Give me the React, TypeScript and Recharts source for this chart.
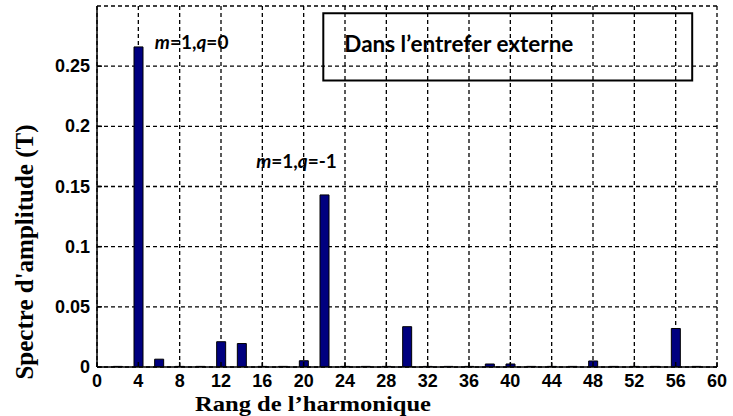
import React from 'react';
import { BarChart, Bar, XAxis, YAxis, CartesianGrid, ReferenceArea, ReferenceDot } from 'recharts';

// rangs harmoniques (pairs) et amplitude du spectre (T)
const rangs = [2, 4, 6, 8, 10, 12, 14, 16, 18, 20, 22, 24, 26, 28, 30, 32, 34, 36, 38, 40, 42, 44, 46, 48, 50, 52, 54, 56, 58];
const amplitudes = [
  0.0005, 0.266, 0.0065, 0.0005, 0.0005, 0.021, 0.0195, 0.0005, 0.0005, 0.0052,
  0.143, 0.0005, 0.0005, 0.0005, 0.0335, 0.0005, 0.0005, 0.0005, 0.0025, 0.0025,
  0.0005, 0.0005, 0.0005, 0.005, 0.0005, 0.0005, 0.0005, 0.032, 0.0005,
];
const xTicks = [0, 4, 8, 12, 16, 20, 24, 28, 32, 36, 40, 44, 48, 52, 56, 60];
const yTicks = [0, 0.05, 0.1, 0.15, 0.2, 0.25];

const data = rangs.map((r, i) => ({ rang: r, amp: amplitudes[i] }));

const tickFont = { fontFamily: 'Liberation Sans, Arial, sans-serif', fontWeight: 700, fontSize: 18, fill: '#000' };
const noteFont = { fontFamily: 'Lato, sans-serif', fontWeight: 700, fontSize: 19, fill: '#000' };

const XTick = (props: any) => (
  <text x={props.x} y={props.y} textAnchor="middle" dominantBaseline="central" {...tickFont}>
    {props.payload.value}
  </text>
);

const YTick = (props: any) => (
  <text x={props.x} y={props.y} textAnchor="end" dominantBaseline="central" {...tickFont}>
    {props.payload.value}
  </text>
);

const NoTick = () => <g />;

const Note = (m: string, q: string) => (p: any) => {
  const vb = p.viewBox || {};
  return (
    <text x={vb.x} y={vb.y} {...noteFont}>
      <tspan fontStyle="italic">m</tspan>
      {'=' + m + ','}
      <tspan fontStyle="italic">q</tspan>
      {'=' + q}
    </text>
  );
};

const BoxLabel = (p: any) => {
  const vb = p.viewBox || {};
  return (
    <text x={vb.x + 21} y={vb.y + 39} {...noteFont} fontSize={22.5}>
      Dans l’entrefer externe
    </text>
  );
};

export default function App() {
  return (
    <div style={{ position: 'absolute', left: 0, top: 0, width: 733, height: 416, background: '#fff' }}>
      <BarChart
        width={733}
        height={416}
        data={data}
        margin={{ top: 6, right: 16, bottom: 0, left: 0 }}
        barSize={9}
      >
        <CartesianGrid stroke="#000" strokeDasharray="4 3" strokeWidth={1.3} />
        <XAxis
          dataKey="rang"
          type="number"
          domain={[0, 60]}
          ticks={xTicks}
          allowDataOverflow
          height={49}
          stroke="#000"
          strokeWidth={1.5}
          tickSize={-5}
          tickMargin={19}
          tick={<XTick />}
        />
        <XAxis
          xAxisId="top"
          dataKey="rang"
          type="number"
          orientation="top"
          domain={[0, 60]}
          ticks={xTicks}
          height={0}
          stroke="#000"
          strokeWidth={1.5}
          tickSize={-5}
          tick={NoTick}
        />
        <YAxis
          type="number"
          domain={[0, 0.3]}
          ticks={yTicks}
          allowDataOverflow
          width={97}
          stroke="#000"
          strokeWidth={1.5}
          tickSize={-5}
          tickMargin={12}
          tick={<YTick />}
        />
        <YAxis
          yAxisId="right"
          type="number"
          orientation="right"
          domain={[0, 0.3]}
          ticks={yTicks}
          width={0}
          stroke="#000"
          strokeWidth={1.5}
          tickSize={-5}
          tick={NoTick}
        />
        <ReferenceArea
          x1={21.9}
          x2={57.6}
          y1={0.238}
          y2={0.294}
          fill="none"
          fillOpacity={0}
          stroke="#000"
          strokeWidth={2}
          label={BoxLabel}
        />
        <ReferenceDot x={5.6} y={0.264} r={0} fill="none" stroke="none" label={Note('1', '0')} />
        <ReferenceDot x={15.4} y={0.165} r={0} fill="none" stroke="none" label={Note('1', '-1')} />
        <Bar dataKey="amp" fill="#00007f" stroke="#000" strokeWidth={1} isAnimationActive={false} />
      </BarChart>
      <svg width={733} height={416} style={{ position: 'absolute', left: 0, top: 0, pointerEvents: 'none' }}>
        <text
          x={313}
          y={411}
          textAnchor="middle"
          textLength={236}
          lengthAdjust="spacingAndGlyphs"
          fontFamily="Liberation Serif, Times New Roman, serif"
          fontWeight={700}
          fontSize={22}
          fill="#000"
        >
          Rang de l’harmonique
        </text>
        <text
          transform="translate(33 252) rotate(-90)"
          textAnchor="middle"
          fontFamily="Liberation Serif, Times New Roman, serif"
          fontWeight={700}
          fontSize={25}
          fill="#000"
        >
          Spectre d'amplitude (T)
        </text>
      </svg>
    </div>
  );
}
